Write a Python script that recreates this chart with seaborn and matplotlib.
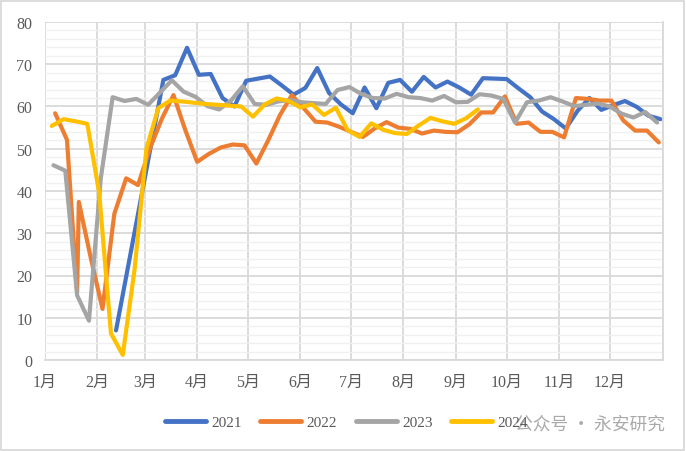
import pandas as pd
import matplotlib.pyplot as plt
import seaborn as sns
from matplotlib.ticker import MultipleLocator, FixedLocator
from matplotlib.lines import Line2D
from matplotlib.patches import Rectangle

# Weekly readings (one value per Friday), None = no data that week
vals_2021 = [None, None, None, None, None, None, 7.0, None, None, None,
             66.3, 67.4, 73.9, 67.5, 67.7, 62.0, 60.0, 66.1, 66.6, 67.1,
             65.0, 62.8, 64.4, 69.1, 63.2, 60.5, 58.4, 64.5, 59.6, 65.6,
             66.3, 63.5, 67.0, 64.5, 65.9, 64.5, 62.8, 66.7, 66.6, 66.5,
             64.3, 62.2, 58.8, 57.0, 54.8, 59.0, 62.0, 59.2, 60.3, 61.3,
             59.9, 57.8, 57.0]
vals_2022 = [58.4, 52.1, 37.4, 24.3, 12.1, 34.6, 43.0, 41.4, 50.0, 57.0,
             62.7, 54.4, 46.9, 48.8, 50.3, 51.0, 50.8, 46.5, 52.0, 58.0,
             62.7, 59.6, 56.4, 56.2, 55.2, 54.0, 52.8, 54.8, 56.3, 55.0,
             54.7, 53.6, 54.3, 54.0, 53.9, 55.8, 58.6, 58.6, 62.4, 55.9,
             56.2, 54.0, 54.0, 52.7, 62.0, 61.8, 61.4, 61.4, 56.7, 54.3,
             54.3, 51.5]
extra_2022_day = [19]      # mid-week reading in late January
extra_2022_val = [16.0]
vals_2023 = [46.1, 44.8, 15.3, 9.3, 43.0, 62.2, 61.3, 61.8, 60.4, 63.3,
             66.2, 63.5, 62.3, 60.1, 59.3, 61.4, 64.8, 60.6, 60.4, 61.2,
             61.5, 61.0, 60.8, 60.6, 63.9, 64.6, 63.0, 62.0, 61.9, 63.0,
             62.2, 62.0, 61.4, 62.5, 61.0, 61.1, 62.9, 62.6, 61.8, 56.2,
             61.0, 61.4, 62.2, 61.2, 60.1, 60.4, 60.7, 60.0, 58.3, 57.4,
             58.7, 56.2]
vals_2024 = [55.4, 57.0, 56.5, 55.9, 39.7, 6.3, 1.2, 21.5, 50.0, 59.6,
             61.4, 61.2, 60.9, 60.6, 60.4, 60.2, 60.0, 57.6, 60.5, 61.9,
             61.3, 59.8, 60.5, 58.0, 59.7, 54.4, 52.8, 56.0, 54.5, 53.7,
             53.5, 55.5, 57.3, 56.5, 55.9, 57.2, 59.3]

years = ['2021', '2022', '2023', '2024']
first_friday = ['2021-01-01', '2022-01-07', '2023-01-06', '2024-01-05']
colors = ['#4472C4', '#ED7D31', '#A5A5A5', '#FFC000']

months = ['1月', '2月', '3月', '4月', '5月', '6月', '7月', '8月', '9月', '10月', '11月', '12月']
month_start = [0, 31, 59, 90, 120, 151, 181, 212, 243, 273, 304, 334]

# Build long table: day of year vs value
frames = []
for year, start, vals in zip(years, first_friday, [vals_2021, vals_2022, vals_2023, vals_2024]):
    dates = pd.date_range(start, periods=len(vals), freq='7D')
    frames.append(pd.DataFrame({'day': dates.dayofyear - 1, 'value': vals, 'year': year}))
frames.append(pd.DataFrame({'day': extra_2022_day, 'value': extra_2022_val, 'year': '2022'}))
df = pd.concat(frames, ignore_index=True).dropna()
df['value'] = df['value'].astype(float)

sns.set_style("white")
plt.rcParams['font.family'] = ['Liberation Serif', 'Noto Sans CJK SC']

fig = plt.figure(figsize=(6.86, 4.52), dpi=100)
ax = fig.add_axes([45 / 686, 1 - 361 / 452, 618 / 686, 338 / 452])

sns.lineplot(data=df, x='day', y='value', hue='year', hue_order=years,
             palette=colors, estimator=None, sort=True, linewidth=3.0,
             legend=False, ax=ax, solid_capstyle='round', solid_joinstyle='round')

ax.set_xlim(0, 365.5)
ax.set_ylim(0, 80)
ax.set_xlabel('')
ax.set_ylabel('')

# Grid lines
ax.set_axisbelow(True)
ax.yaxis.set_major_locator(MultipleLocator(10))
ax.yaxis.set_minor_locator(MultipleLocator(2))
ax.xaxis.set_major_locator(FixedLocator(month_start + [365.5]))
ax.set_xticklabels(months + [''])
ax.grid(which='major', axis='both', color='#D9D9D9', linewidth=1.3)
ax.grid(which='minor', axis='y', color='#F0F0F0', linewidth=1.0)

for side in ['left', 'top']:
    ax.spines[side].set_visible(False)
for side in ['bottom', 'right']:
    ax.spines[side].set_color('#D9D9D9')
    ax.spines[side].set_linewidth(1.3)

ax.tick_params(axis='x', which='major', length=4, width=1.3, color='#D9D9D9',
               pad=6, labelsize=11.5, labelcolor='#595959')
ax.tick_params(axis='y', which='both', length=0, pad=9, labelsize=11.5, labelcolor='#595959')

# Legend
handles = [Line2D([0], [0], color=c, lw=3.5, solid_capstyle='round') for c in colors]
fig.legend(handles, years, loc='center', bbox_to_anchor=(0.505, 1 - 423 / 452), ncol=4,
           frameon=False, handlelength=2.7, handletextpad=0.35, columnspacing=1.2,
           prop={'size': 11}, labelcolor='#595959')

# Watermark
fig.text(0.970, 1 - 425 / 452, '公众号 · 永安研究', ha='right', va='center',
         fontsize=12.8, color='#9A9A9A', alpha=0.85, family=['Noto Sans CJK SC'])

# Chart frame
fig.patches.append(Rectangle((0.002, 0.003), 0.995, 0.993, transform=fig.transFigure,
                             fill=False, edgecolor='#D9D9D9', linewidth=1.3))

fig.savefig('out.png', dpi=100)
